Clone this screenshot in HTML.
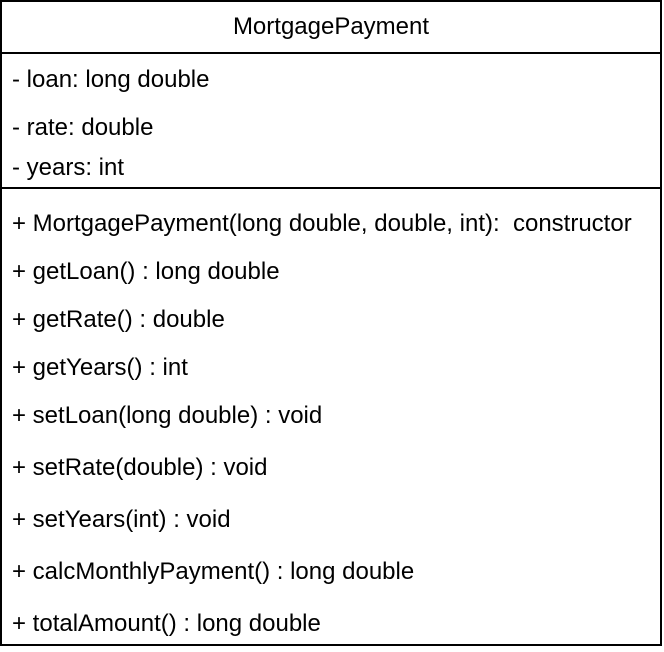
<!DOCTYPE html>
<html><head><style>
body{margin:0;width:664px;height:652px;background:#fff;position:relative;font-family:"Liberation Sans",Arial,sans-serif;font-size:24px;color:#000;overflow:hidden}
.b{position:absolute;background:#000}
.t{position:absolute;left:12px;line-height:24px;white-space:nowrap}
</style></head><body>
<div class="b" style="left:0;top:0;width:662px;height:2px"></div>
<div class="b" style="left:0;top:644px;width:662px;height:2px"></div>
<div class="b" style="left:0;top:0;width:2px;height:646px"></div>
<div class="b" style="left:660px;top:0;width:2px;height:646px"></div>
<div class="b" style="left:0;top:52px;width:662px;height:2px"></div>
<div class="b" style="left:0;top:187px;width:662px;height:2px"></div>
<div class="t" style="left:0;width:662px;text-align:center;top:15px">MortgagePayment</div>
<div class="t" style="top:68px">- loan: long double</div>
<div class="t" style="top:116px">- rate: double</div>
<div class="t" style="top:156px">- years: int</div>
<div class="t" style="top:212px">+ MortgagePayment(long double, double, int):&nbsp; constructor</div>
<div class="t" style="top:260px">+ getLoan() : long double</div>
<div class="t" style="top:308px">+ getRate() : double</div>
<div class="t" style="top:356px">+ getYears() : int</div>
<div class="t" style="top:404px">+ setLoan(long double) : void</div>
<div class="t" style="top:456px">+ setRate(double) : void</div>
<div class="t" style="top:508px">+ setYears(int) : void</div>
<div class="t" style="top:560px">+ calcMonthlyPayment() : long double</div>
<div class="t" style="top:612px">+ totalAmount() : long double</div>
</body></html>
